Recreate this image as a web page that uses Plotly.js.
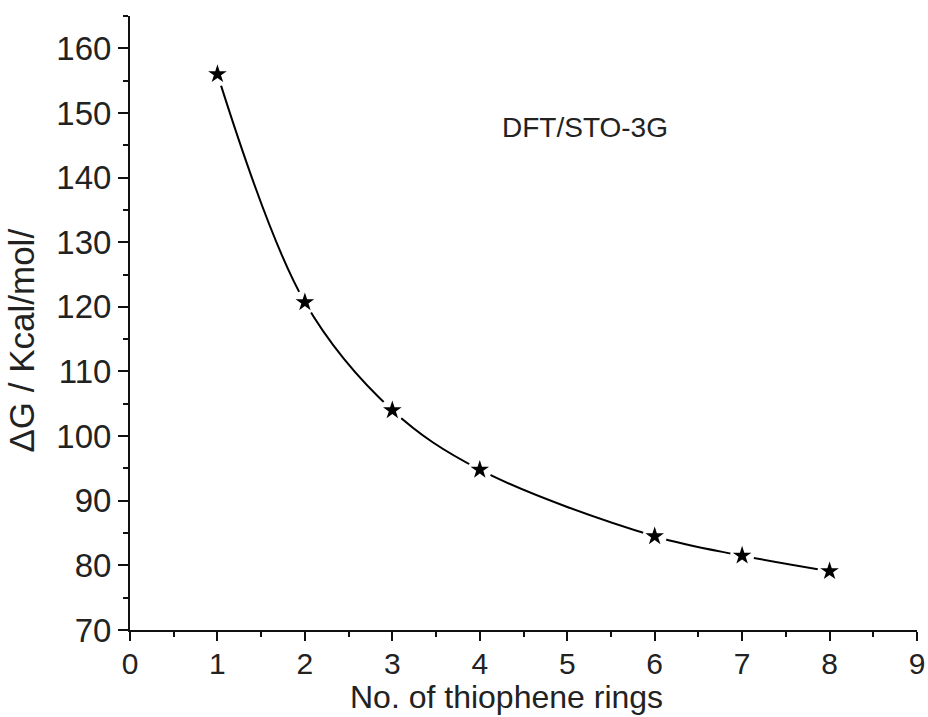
<!DOCTYPE html>
<html>
<head>
<meta charset="utf-8">
<script src="https://cdn.plot.ly/plotly-3.0.1.min.js"></script>
<style>html,body{margin:0;padding:0;background:#fff;}#chart{width:928px;height:717px;}</style>
</head>
<body>
<div id="chart"></div>
<script>
// Data
const rings = [1, 2, 3, 4, 6, 7, 8];
const deltaG = [156.0, 120.7, 104.0, 94.8, 84.5, 81.5, 79.1];
const xTickVals = [0, 1, 2, 3, 4, 5, 6, 7, 8, 9];
const yTickVals = [70, 80, 90, 100, 110, 120, 130, 140, 150, 160];
const methodLabel = "DFT/STO-3G";
const xTitle = "No. of thiophene rings";
const yTitle = "ΔG / Kcal/mol/";

const FONT = "Liberation Sans, Arial, sans-serif";

const traces = [
  {
    x: rings, y: deltaG, type: "scatter", mode: "lines",
    line: {color: "#000", width: 2, shape: "spline", smoothing: 1},
    hoverinfo: "skip", showlegend: false
  },
  {
    x: rings, y: deltaG, type: "scatter", mode: "markers",
    marker: {symbol: "circle", size: 24, color: "#fff", line: {width: 0}},
    hoverinfo: "skip", showlegend: false
  },
  {
    x: rings, y: deltaG, type: "scatter", mode: "markers",
    marker: {symbol: "star", size: 14, color: "#000", line: {width: 0}},
    showlegend: false
  }
];

const layout = {
  width: 928, height: 717,
  margin: {l: 130, r: 11, t: 16, b: 87},
  paper_bgcolor: "#fff", plot_bgcolor: "#fff",
  font: {family: FONT, color: "#222", size: 30},
  showlegend: false,
  xaxis: {
    range: [0, 9], tickvals: xTickVals, ticktext: xTickVals.map(String),
    ticks: "outside", ticklen: 9, tickwidth: 2, tickcolor: "#111",
    ticklabelstandoff: -3,
    showline: true, linecolor: "#111", linewidth: 2, mirror: false,
    showgrid: false, zeroline: false,
    tickfont: {family: FONT, size: 30, color: "#222"},
    minor: {dtick: 0.5, tick0: 0, ticks: "outside", ticklen: 5, tickwidth: 2, tickcolor: "#111", showgrid: false}
  },
  yaxis: {
    range: [70, 165], tickvals: yTickVals, ticktext: yTickVals.map(String),
    ticks: "outside", ticklen: 10, tickwidth: 2, tickcolor: "#111",
    showline: true, linecolor: "#111", linewidth: 2, mirror: false,
    showgrid: false, zeroline: false,
    tickfont: {family: FONT, size: 33, color: "#222"},
    minor: {dtick: 5, tick0: 70, ticks: "outside", ticklen: 5, tickwidth: 2, tickcolor: "#111", showgrid: false}
  },
  annotations: [
    {text: methodLabel, xref: "x", yref: "y", x: 5.2, y: 147.7,
     showarrow: false, xanchor: "center", yanchor: "middle",
     font: {family: FONT, size: 28, color: "#222"}},
    {text: xTitle, xref: "paper", yref: "paper", x: 0.478, y: 0, yshift: -87,
     showarrow: false, xanchor: "center", yanchor: "bottom",
     font: {family: FONT, size: 32, color: "#222"}},
    {text: yTitle, xref: "paper", yref: "paper", x: -0.138, y: 0.472,
     showarrow: false, xanchor: "center", yanchor: "middle", textangle: -90,
     font: {family: FONT, size: 35, color: "#222"}}
  ]
};

Plotly.newPlot("chart", traces, layout, {displayModeBar: false, staticPlot: true});
</script>
</body>
</html>
